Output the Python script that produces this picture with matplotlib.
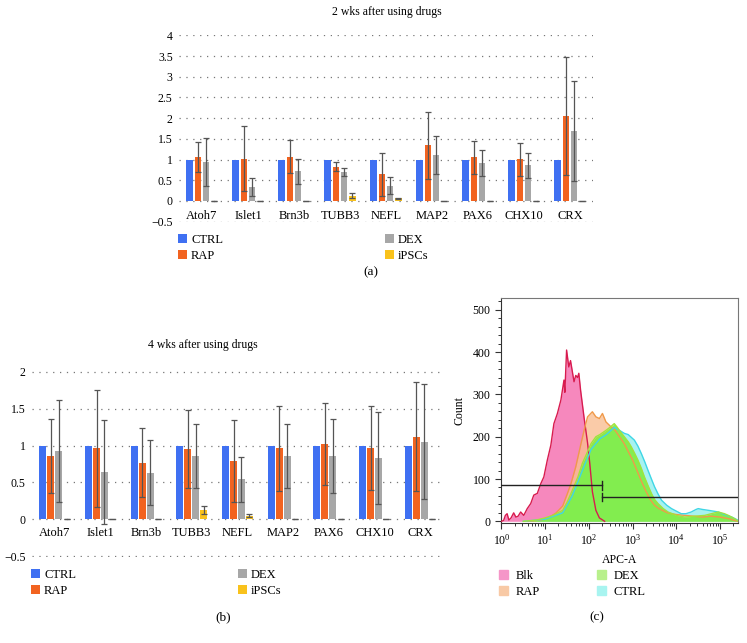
import numpy as np
import matplotlib
matplotlib.use('Agg')
import matplotlib.pyplot as plt
from matplotlib.patches import Patch
from matplotlib.ticker import LogLocator, MultipleLocator, NullFormatter

plt.rcParams['font.family'] = ['Liberation Serif', 'DejaVu Serif']
plt.rcParams['mathtext.fontset'] = 'custom'
plt.rcParams['mathtext.rm'] = 'Liberation Serif'
plt.rcParams['font.size'] = 8

# ---- data ----
genes = ['Atoh7', 'Islet1', 'Brn3b', 'TUBB3', 'NEFL', 'MAP2', 'PAX6', 'CHX10', 'CRX']
groups = ['CTRL', 'RAP', 'DEX', 'iPSCs']

wk2_ctrl = [1, 1, 1, 1, 1, 1, 1, 1, 1]
wk2_rap = [1.06, 1.02, 1.07, 0.83, 0.64, 1.34, 1.05, 1.01, 2.06]
wk2_rap_err = [0.37, 0.79, 0.39, 0.10, 0.51, 0.82, 0.40, 0.40, 1.43]
wk2_dex = [0.95, 0.34, 0.72, 0.70, 0.37, 1.10, 0.92, 0.86, 1.69]
wk2_dex_err = [0.58, 0.21, 0.30, 0.09, 0.21, 0.46, 0.31, 0.30, 1.21]
wk2_ips = [0, 0, 0, 0.13, 0.06, 0, 0, 0, 0]
wk2_ips_err = [0, 0, 0, 0.05, 0.01, 0, 0, 0, 0]

wk4_ctrl = [1, 1, 1, 1, 1, 1, 1, 1, 1]
wk4_rap = [0.86, 0.96, 0.77, 0.95, 0.79, 0.96, 1.02, 0.97, 1.12]
wk4_rap_err = [0.50, 0.79, 0.47, 0.53, 0.55, 0.58, 0.56, 0.57, 0.74]
wk4_dex = [0.93, 0.64, 0.63, 0.86, 0.54, 0.86, 0.86, 0.83, 1.05]
wk4_dex_err = [0.69, 0.70, 0.44, 0.43, 0.30, 0.43, 0.50, 0.62, 0.78]
wk4_ips = [0, 0, 0, 0.125, 0.05, 0, 0, 0, 0]
wk4_ips_err = [0, 0, 0, 0.05, 0.02, 0, 0, 0, 0]

# flow histogram, x as log10(APC-A)
blk_log = [0.0, 0.05, 0.09, 0.13, 0.17, 0.22, 0.28, 0.33, 0.38, 0.44, 0.51, 0.59, 0.67, 0.74,
           0.82, 0.9, 0.97, 1.05, 1.13, 1.2, 1.28, 1.36, 1.43, 1.45, 1.49, 1.54, 1.58, 1.62,
           1.66, 1.7, 1.74, 1.77, 1.81, 1.89, 1.97, 2.02, 2.08, 2.16, 2.24, 2.36]
blk_cnt = [0, 2, 14, 18, 3, 8, 20, 10, 12, 22, 14, 30, 42, 62,
           66, 89, 105, 145, 180, 231, 255, 287, 334, 305, 405, 365, 380, 355,
           330, 345, 340, 350, 310, 245, 185, 137, 70, 26, 8, 0]

rap_log = [0.6, 0.9, 1.1, 1.25, 1.4, 1.51, 1.59, 1.7, 1.82, 1.89, 1.97, 2.08, 2.16, 2.24,
           2.31, 2.39, 2.51, 2.6, 2.7, 2.8, 2.9, 3.0, 3.1, 3.2, 3.3, 3.4, 3.5, 3.6, 3.8,
           4.0, 4.2, 4.4, 4.6, 4.8, 5.0, 5.2, 5.4]
rap_cnt = [0, 3, 10, 20, 36, 66, 89, 129, 184, 215, 247, 259, 247, 243,
           255, 235, 223, 215, 200, 185, 165, 145, 120, 95, 72, 52, 38, 30, 20,
           16, 14, 12, 10, 12, 10, 6, 0]

dex_log = [0.5, 0.8, 1.0, 1.2, 1.4, 1.5, 1.62, 1.75, 1.85, 1.95, 2.05, 2.16, 2.25, 2.39,
           2.48, 2.58, 2.65, 2.72, 2.81, 2.9, 2.97, 3.05, 3.12, 3.2, 3.27, 3.35, 3.43,
           3.5, 3.58, 3.7, 3.81, 4.0, 4.19, 4.4, 4.65, 4.8, 4.96, 5.1, 5.19, 5.3, 5.38, 5.41]
dex_cnt = [0, 3, 8, 15, 26, 45, 73, 105, 137, 160, 184, 200, 205, 215,
           222, 231, 222, 212, 200, 188, 176, 160, 145, 125, 105, 85, 66,
           52, 42, 30, 22, 14, 10, 12, 14, 18, 22, 18, 14, 8, 3, 0]

ctrl_log = [0.5, 1.0, 1.4, 1.62, 1.85, 2.05, 2.25, 2.4, 2.58, 2.7, 2.81, 2.9, 3.04, 3.12,
            3.2, 3.28, 3.35, 3.43, 3.5, 3.58, 3.66, 3.78, 3.89, 4.0, 4.11, 4.22, 4.34,
            4.45, 4.5, 4.6, 4.73, 4.85, 4.96, 5.1, 5.27, 5.42]
ctrl_cnt = [0, 5, 20, 60, 120, 170, 195, 205, 222, 215, 208, 205, 192, 178,
            160, 140, 121, 100, 82, 65, 50, 38, 30, 24, 18, 18, 22,
            28, 30, 28, 26, 24, 22, 16, 10, 2]

gate_split_log = 2.31
gate_left_y = 85
gate_right_y = 58

bar_colors = ['#3f70f2', '#f26320', '#a7a7a7', '#f9c21c']
err_color = '#555555'

fig = plt.figure(figsize=(7.47, 6.43), dpi=100)
W, H = 747, 643


def px_axes(left, right, top, bottom):
    return fig.add_axes([left / W, 1 - bottom / H, (right - left) / W, (bottom - top) / H])


def bar_panel(ax, series, errs, ymin, ymax, label_off):
    x = np.arange(len(genes))
    step, width = 0.175, 0.15
    handles = []
    for k, (vals, err) in enumerate(zip(series, errs)):
        h = ax.bar(x + (k - 1.5) * step, vals, width, color=bar_colors[k], label=groups[k], zorder=2)
        handles.append(h)
        if err is not None:
            ax.errorbar(x + (k - 1.5) * step, vals, yerr=err, fmt='none', ecolor=err_color,
                        elinewidth=0.9, capsize=2.5, capthick=0.9, zorder=3)
    ax.set_xlim(-0.5, len(genes) - 0.5)
    ax.set_ylim(ymin - 0.01, ymax + 0.01)
    ticks = np.arange(ymin, ymax + 0.001, 0.5)
    ax.set_yticks(ticks)
    ax.set_yticklabels(['{:g}'.format(t).replace('-', '\u2212') for t in ticks])
    ax.set_xticks([])
    ax.tick_params(axis='y', length=0, pad=4.5, labelsize=8.5)
    ax.yaxis.grid(True, linestyle=(0, (1, 4.5)), color='#777777', linewidth=0.9)
    ax.set_axisbelow(True)
    for s in ax.spines.values():
        s.set_visible(False)
    for i, g in enumerate(genes):
        ax.annotate(g, (i, 0), xytext=(0, -label_off), textcoords='offset pixels',
                    ha='center', va='center', fontsize=9)
    return handles


# ---- (a) ----
ax_a = px_axes(179, 593, 35, 222)
h_a = bar_panel(ax_a, [wk2_ctrl, wk2_rap, wk2_dex, wk2_ips],
                [None, wk2_rap_err, wk2_dex_err, wk2_ips_err], -0.5, 4.0, 15)
fig.text(387 / W, 1 - 12 / H, '2 wks after using drugs', ha='center', va='center', fontsize=8.5)
leg_kw = dict(frameon=False, handlelength=0.75, handleheight=0.75, handletextpad=0.3,
              borderpad=0, borderaxespad=0, labelspacing=0.3, fontsize=9, loc='upper left')
fig.legend(handles=h_a[:2], bbox_to_anchor=(178 / W, 1 - 234 / H), **leg_kw)
fig.legend(handles=h_a[2:], bbox_to_anchor=(385 / W, 1 - 234 / H), **leg_kw)
fig.text(371 / W, 1 - 272 / H, '(a)', ha='center', va='center', fontsize=9.5)

# ---- (b) ----
ax_b = px_axes(32, 443, 371, 557)
h_b = bar_panel(ax_b, [wk4_ctrl, wk4_rap, wk4_dex, wk4_ips],
                [None, wk4_rap_err, wk4_dex_err, wk4_ips_err], -0.5, 2.0, 14)
fig.text(203 / W, 1 - 345 / H, '4 wks after using drugs', ha='center', va='center', fontsize=8.5)
fig.legend(handles=h_b[:2], bbox_to_anchor=(31 / W, 1 - 569 / H), **leg_kw)
fig.legend(handles=h_b[2:], bbox_to_anchor=(238 / W, 1 - 569 / H), **leg_kw)
fig.text(223 / W, 1 - 617 / H, '(b)', ha='center', va='center', fontsize=9.5)

# ---- (c) ----
ax_c = px_axes(501, 738, 298, 523)
hist = [
    (blk_log, blk_cnt, '#f573b2', '#d81b4f', 0.85),
    (rap_log, rap_cnt, '#f9bf92', '#f09a4a', 0.8),
    (ctrl_log, ctrl_cnt, '#98f0ee', '#3fd6e6', 0.85),
    (dex_log, dex_cnt, '#7eee3a', '#a2e23c', 0.88),
]
for lg, cnt, fc, ec, a in hist:
    xv = 10 ** np.array(lg)
    ax_c.fill_between(xv, cnt, 0, color=fc, alpha=a, linewidth=0, zorder=2)
    ax_c.plot(xv, cnt, color=ec, linewidth=1.0, zorder=3)

xl, xr = 10 ** -0.01, 10 ** 5.41
xs = 10 ** gate_split_log
ax_c.plot([xl, xs], [gate_left_y, gate_left_y], color='#222222', lw=1.0, zorder=4)
ax_c.plot([xs, xs], [gate_left_y - 10, gate_left_y + 10], color='#222222', lw=1.0, zorder=4)
ax_c.plot([xs, xr], [gate_right_y, gate_right_y], color='#222222', lw=1.0, zorder=4)
ax_c.plot([xs, xs], [gate_right_y - 10, gate_right_y + 10], color='#222222', lw=1.0, zorder=4)

ax_c.set_xscale('log')
ax_c.set_xlim(xl, xr)
ax_c.set_ylim(-4, 528)
ax_c.xaxis.set_major_locator(LogLocator(base=10, numticks=10))
ax_c.xaxis.set_minor_locator(LogLocator(base=10, subs=np.arange(2, 10), numticks=20))
ax_c.xaxis.set_minor_formatter(NullFormatter())
ax_c.yaxis.set_major_locator(MultipleLocator(100))
ax_c.yaxis.set_minor_locator(MultipleLocator(20))
ax_c.tick_params(which='major', direction='out', length=4, width=0.8, labelsize=8.5, color='#333333')
ax_c.tick_params(which='minor', direction='out', length=2.5, width=0.7, color='#333333')
for s in ax_c.spines.values():
    s.set_color('#777777')
    s.set_linewidth(0.8)
ax_c.spines['left'].set_color('#333333')
ax_c.spines['bottom'].set_color('#333333')
ax_c.set_ylabel('Count', fontsize=8.5, labelpad=5)
ax_c.set_xlabel('APC-A', fontsize=8.5, labelpad=4)

hist_handles = [Patch(color='#f596c8', label='Blk'), Patch(color='#f8c9a5', label='RAP'),
                Patch(color='#b8f08c', label='DEX'), Patch(color='#a8f4f0', label='CTRL')]
hist_kw = dict(leg_kw, handletextpad=0.6)
fig.legend(handles=hist_handles[:2], bbox_to_anchor=(499 / W, 1 - 570 / H), **hist_kw)
fig.legend(handles=hist_handles[2:], bbox_to_anchor=(597 / W, 1 - 570 / H), **hist_kw)
fig.text(597 / W, 1 - 617 / H, '(c)', ha='center', va='center', fontsize=9.5)

fig.savefig('out.png', dpi=100)
